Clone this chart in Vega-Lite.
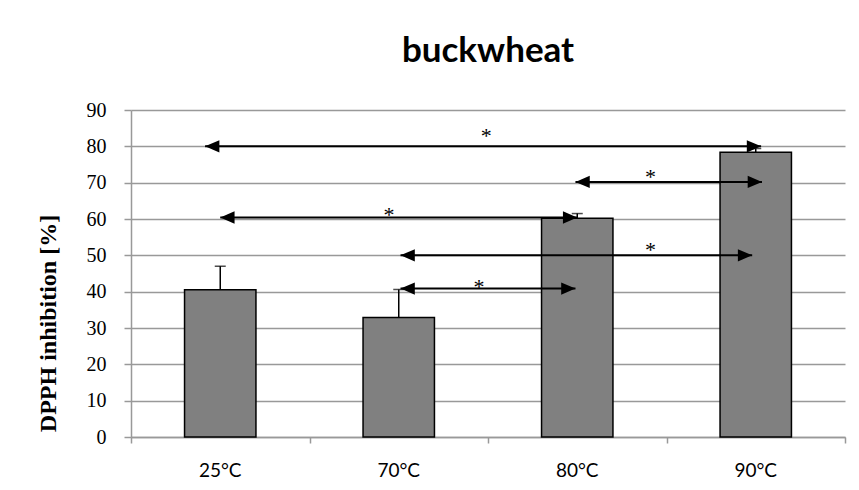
{
  "$schema": "https://vega.github.io/schema/vega-lite/v6.json",
  "width": 714,
  "height": 327,
  "autosize": {"type": "none"},
  "padding": {"left": 131, "top": 110, "right": 14, "bottom": 53},
  "background": "white",
  "title": {"text": "buckwheat", "font": "Lato", "fontSize": 35, "fontWeight": "bold", "color": "black", "anchor": "middle", "offset": 31},
  "config": {
    "view": {"stroke": null},
    "axisY": {"labelOverlap": false,
      "titleFont": "Liberation Serif", "titleFontSize": 24, "titleFontWeight": "bold", "titleColor": "black",
      "titleY": 213, "titlePadding": 26,
      "labelFont": "Liberation Serif", "labelFontSize": 20, "labelColor": "black", "labelPadding": 18,
      "tickSize": 7, "tickColor": "#999999", "tickWidth": 1.5,
      "domainColor": "#999999", "domainWidth": 1.5,
      "grid": true, "gridColor": "#999999", "gridWidth": 1.5}
  },
  "datasets": {
    "bars": [
      {"temp": "25°C", "value": 40.5, "upper": 47.0},
      {"temp": "70°C", "value": 32.9, "upper": 40.6},
      {"temp": "80°C", "value": 60.2, "upper": 61.5},
      {"temp": "90°C", "value": 78.4, "upper": 79.4}
    ],
    "arrows": [
      {"x1": 0.415, "x2": 3.53, "y": 80, "sx": 1.99, "sy": 84.2},
      {"x1": 2.49, "x2": 3.535, "y": 70.2, "sx": 2.91, "sy": 73.0},
      {"x1": 0.5, "x2": 2.5, "y": 60.4, "sx": 1.445, "sy": 62.6},
      {"x1": 1.51, "x2": 3.48, "y": 50.0, "sx": 2.91, "sy": 52.8},
      {"x1": 1.51, "x2": 2.49, "y": 40.85, "sx": 1.95, "sy": 42.7}
    ]
  },
  "layer": [
    {
      "data": {"name": "bars"},
      "layer": [
        {
          "mark": {"type": "bar", "width": {"band": 0.4}, "fill": "#808080", "stroke": "black", "strokeWidth": 1.5},
          "encoding": {
            "x": {"field": "temp", "type": "nominal", "sort": null,
              "scale": {"paddingInner": 0, "paddingOuter": 0},
              "axis": {"orient": "bottom", "title": null, "labelAngle": 0, "ticks": false, "tickSize": 0, "domain": false, "grid": false,
                "labelFont": "Lato", "labelFontSize": 19, "labelColor": "black", "labelPadding": 24}},
            "y": {"field": "value", "type": "quantitative",
              "scale": {"domain": [0, 90], "nice": false, "zero": true},
              "axis": {"values": [0, 10, 20, 30, 40, 50, 60, 70, 80, 90], "tickCount": 20, "title": "DPPH  inhibition  [%]"}}
          }
        },
        {
          "mark": {"type": "rule", "color": "black", "strokeWidth": 1.5},
          "encoding": {
            "x": {"field": "temp", "type": "nominal", "sort": null},
            "y": {"field": "value", "type": "quantitative"},
            "y2": {"field": "upper"}
          }
        },
        {
          "mark": {"type": "tick", "color": "black", "size": 11, "thickness": 1.5},
          "encoding": {
            "x": {"field": "temp", "type": "nominal", "sort": null},
            "y": {"field": "upper", "type": "quantitative"}
          }
        }
      ]
    },
    {
      "data": {"name": "arrows"},
      "layer": [
        {
          "mark": {"type": "rule", "color": "black", "strokeWidth": 2},
          "encoding": {
            "x": {"field": "x1", "type": "quantitative",
              "scale": {"domain": [0, 4], "nice": false, "zero": false},
              "axis": {"orient": "bottom", "values": [0, 1, 2, 3, 4], "tickCount": 10, "labels": false, "title": null, "grid": false,
                "tickSize": 6, "tickColor": "#999999", "tickWidth": 1.5, "domainColor": "#999999", "domainWidth": 1.5}},
            "x2": {"field": "x2"},
            "y": {"field": "y", "type": "quantitative"}
          }
        },
        {
          "mark": {"type": "point", "shape": "M0,0L2.2,-0.95L2.2,0.95Z", "size": 169, "filled": true, "color": "black", "opacity": 1},
          "encoding": {
            "x": {"field": "x1", "type": "quantitative"},
            "y": {"field": "y", "type": "quantitative"}
          }
        },
        {
          "mark": {"type": "point", "shape": "M0,0L-2.2,-0.95L-2.2,0.95Z", "size": 169, "filled": true, "color": "black", "opacity": 1},
          "encoding": {
            "x": {"field": "x2", "type": "quantitative"},
            "y": {"field": "y", "type": "quantitative"}
          }
        },
        {
          "mark": {"type": "text", "text": "*", "font": "Liberation Serif", "fontSize": 22, "color": "black", "baseline": "middle", "align": "center", "dy": 5},
          "encoding": {
            "x": {"field": "sx", "type": "quantitative"},
            "y": {"field": "sy", "type": "quantitative"}
          }
        }
      ]
    }
  ],
  "resolve": {"scale": {"x": "independent"}, "axis": {"x": "independent"}}
}
